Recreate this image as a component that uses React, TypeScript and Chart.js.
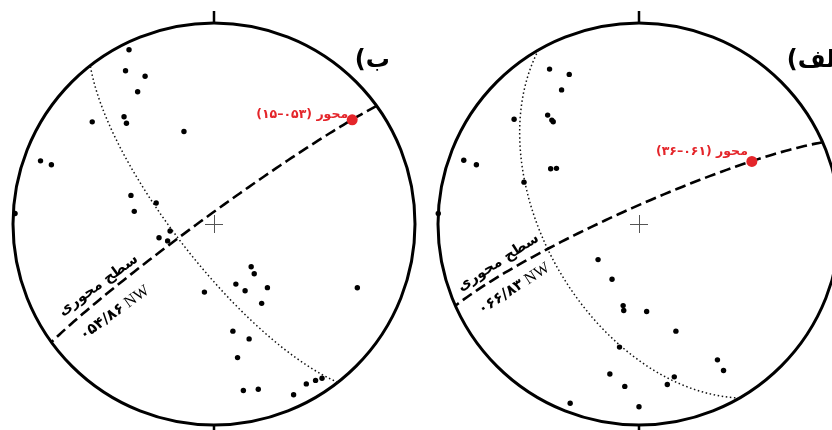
import { useEffect, useRef } from "react";
import { Chart, registerables } from "chart.js";

Chart.register(...registerables);

// Poles, lower hemisphere equal-area net, [trend, plunge] in degrees.
const polesB: [number, number][] = [
  [334, 4], [330, 13], [335, 20], [330, 25], [310, 22], [320, 31], [319, 34],
  [342, 50], [290, 9], [290, 15], [289, 54], [290, 65], [279, 57], [273, 1],
  [261, 72], [256, 67], [250, 70], [139, 67], [141, 64], [160, 64], [155, 60],
  [140, 56], [188, 62], [149, 52], [114, 23], [170, 45], [163, 40], [170, 33],
  [170, 17], [165, 16], [155, 7], [150, 9], [147, 8], [145, 7],
];

const polesAlef: [number, number][] = [
  [330, 12], [335, 19], [330, 24], [310, 20], [320, 30], [320, 33], [320, 34],
  [290, 8], [290, 15], [302, 47], [304, 49], [290, 39], [273, 0],
  [229, 68], [206, 65], [191, 56], [190, 54], [175, 54], [161, 43], [189, 38],
  [150, 23], [150, 17], [191, 25], [167, 23], [170, 20], [185, 20], [201, 5],
  [180, 10],
];

// Fold axes: trend, plunge
const axisB = { trend: 53, plunge: 15 };
const axisAlef = { trend: 61, plunge: 36 };

// Axial planes (dashed): strike / dip, dip quadrant
const axialPlaneB = { strike: 54, dip: 86, quadrant: "NW" };
const axialPlaneAlef = { strike: 66, dip: 83, quadrant: "NW" };

// Pole girdles (dotted)
const girdleB = { strike: 142, dip: 75, quadrant: "SW" };
const girdleAlef = { strike: 150, dip: 52, quadrant: "SW" };

const titleB = "ب)";
const titleAlef = "الف)";
const axisWord = "محور";
const axialPlaneWord = "سطح محوری";

// Canvas layout: net centre and radius in pixels
const W = 428;
const H = 430;
const CX = 214;
const CY = 224;
const R = 201;

const DEG = Math.PI / 180;
const FA_DIGITS = "۰۱۲۳۴۵۶۷۸۹";
const fa = (n: number, width: number) =>
  String(n).padStart(width, "0").replace(/\d/g, (d) => FA_DIGITS[+d]);

type Plane = { strike: number; dip: number; quadrant: string };

// Lambert equal-area (Schmidt) projection of a line
function project(trend: number, plunge: number) {
  const r = Math.SQRT2 * Math.sin(((90 - plunge) / 2) * DEG);
  return { x: r * Math.sin(trend * DEG), y: r * Math.cos(trend * DEG) };
}

const QUADRANT_AZ: Record<string, number> = { NE: 45, SE: 135, SW: 225, NW: 315 };

function dipDirection(p: Plane) {
  const a = (p.strike + 90) % 360;
  const b = (p.strike + 270) % 360;
  const q = QUADRANT_AZ[p.quadrant];
  const diff = (u: number) => Math.abs(((u - q + 540) % 360) - 180);
  return diff(a) < diff(b) ? a : b;
}

// Great circle of a plane: lines in the plane from one strike end to the other
function greatCircle(p: Plane) {
  const dd = dipDirection(p);
  const s = [Math.sin(p.strike * DEG), Math.cos(p.strike * DEG), 0];
  const d = [
    Math.sin(dd * DEG) * Math.cos(p.dip * DEG),
    Math.cos(dd * DEG) * Math.cos(p.dip * DEG),
    Math.sin(p.dip * DEG),
  ];
  const pts: { x: number; y: number }[] = [];
  for (let a = 0; a <= 180; a += 2) {
    const c = Math.cos(a * DEG);
    const sn = Math.sin(a * DEG);
    const v = [c * s[0] + sn * d[0], c * s[1] + sn * d[1], c * s[2] + sn * d[2]];
    const plunge = Math.asin(Math.max(0, Math.min(1, v[2]))) / DEG;
    const trend = Math.atan2(v[0], v[1]) / DEG;
    pts.push(project(trend, plunge));
  }
  return pts;
}

type Panel = {
  title: string;
  titleAt: [number, number];
  poles: [number, number][];
  axis: { trend: number; plunge: number };
  axisLabelRise: number;
  axialPlane: Plane;
  girdle: Plane;
  nameAt: [number, number];
  valueAt: [number, number];
  labelAngle: number;
};

const panelB: Panel = {
  title: titleB,
  titleAt: [0.70, 0.81],
  poles: polesB,
  axis: axisB,
  axisLabelRise: 5.5,
  axialPlane: axialPlaneB,
  girdle: girdleB,
  nameAt: [-0.575, -0.305],
  valueAt: [-0.495, -0.443],
  labelAngle: -36,
};

const panelAlef: Panel = {
  title: titleAlef,
  titleAt: [0.735, 0.81],
  poles: polesAlef,
  axis: axisAlef,
  axisLabelRise: 10,
  axialPlane: axialPlaneAlef,
  girdle: girdleAlef,
  nameAt: [-0.700, -0.192],
  valueAt: [-0.622, -0.323],
  labelAngle: -33,
};

const PERSIAN_FONT = '"DejaVu Sans", sans-serif';
const RED = "#e4252a";

function netDecor(panel: Panel) {
  return {
    id: "netDecor",
    beforeDatasetsDraw(chart: any) {
      const { ctx, scales } = chart;
      const cx = scales.x.getPixelForValue(0);
      const cy = scales.y.getPixelForValue(0);
      const r = scales.x.getPixelForValue(1) - cx;
      ctx.save();
      // primitive circle
      ctx.strokeStyle = "#000";
      ctx.lineWidth = 3;
      ctx.beginPath();
      ctx.arc(cx, cy, r, 0, Math.PI * 2);
      ctx.stroke();
      // north and south ticks
      ctx.lineWidth = 2.5;
      ctx.beginPath();
      ctx.moveTo(cx, cy - r);
      ctx.lineTo(cx, cy - r - 12);
      ctx.moveTo(cx, cy + r);
      ctx.lineTo(cx, cy + r + 12);
      ctx.stroke();
      // centre cross
      ctx.strokeStyle = "#555";
      ctx.lineWidth = 1;
      ctx.beginPath();
      ctx.moveTo(cx - 9, cy + 0.5);
      ctx.lineTo(cx + 9, cy + 0.5);
      ctx.moveTo(cx + 0.5, cy - 9);
      ctx.lineTo(cx + 0.5, cy + 9);
      ctx.stroke();
      ctx.restore();
    },
    afterDatasetsDraw(chart: any) {
      const { ctx, scales } = chart;
      const px = (v: number) => scales.x.getPixelForValue(v);
      const py = (v: number) => scales.y.getPixelForValue(v);
      ctx.save();

      // panel letter
      ctx.direction = "rtl";
      ctx.fillStyle = "#000";
      ctx.font = `bold 24px ${PERSIAN_FONT}`;
      ctx.textAlign = "left";
      ctx.textBaseline = "middle";
      ctx.fillText(panel.title, px(panel.titleAt[0]), py(panel.titleAt[1]));

      // fold axis label
      const a = project(panel.axis.trend, panel.axis.plunge);
      ctx.fillStyle = RED;
      ctx.font = `bold 12.5px ${PERSIAN_FONT}`;
      ctx.textAlign = "right";
      ctx.fillText(
        `${axisWord} (${fa(panel.axis.trend, 3)}–${fa(panel.axis.plunge, 2)})`,
        px(a.x) - 4,
        py(a.y) - panel.axisLabelRise
      );

      // axial plane labels along the dashed trace
      ctx.fillStyle = "#000";
      ctx.textAlign = "center";
      ctx.save();
      ctx.translate(px(panel.nameAt[0]), py(panel.nameAt[1]));
      ctx.rotate(panel.labelAngle * DEG);
      ctx.direction = "rtl";
      ctx.font = `bold 14.5px ${PERSIAN_FONT}`;
      ctx.fillText(axialPlaneWord, 0, 0);
      ctx.restore();

      ctx.save();
      ctx.translate(px(panel.valueAt[0]), py(panel.valueAt[1]));
      ctx.rotate(panel.labelAngle * DEG);
      ctx.direction = "ltr";
      const num = `${fa(panel.axialPlane.strike, 3)}/${fa(panel.axialPlane.dip, 2)}`;
      const q = ` ${panel.axialPlane.quadrant}`;
      ctx.font = `bold 15px ${PERSIAN_FONT}`;
      const wNum = ctx.measureText(num).width;
      ctx.font = `16px "Liberation Serif", serif`;
      const wQ = ctx.measureText(q).width;
      const x0 = -(wNum + wQ) / 2;
      ctx.textAlign = "left";
      ctx.font = `bold 15px ${PERSIAN_FONT}`;
      ctx.fillText(num, x0, 0);
      ctx.font = `16px "Liberation Serif", serif`;
      ctx.fillText(q, x0 + wNum, 0);
      ctx.restore();

      ctx.restore();
    },
  };
}

function Stereonet({ panel, left }: { panel: Panel; left: number }) {
  const ref = useRef<HTMLCanvasElement>(null);
  useEffect(() => {
    const axisPt = project(panel.axis.trend, panel.axis.plunge);
    const chart = new Chart(ref.current!, {
      type: "scatter",
      data: {
        datasets: [
          {
            label: "axis",
            data: [axisPt],
            pointRadius: 5.5,
            pointBorderWidth: 0,
            pointBackgroundColor: RED,
            backgroundColor: RED,
            order: 0,
          },
          {
            label: "poles",
            data: panel.poles.map(([t, p]) => project(t, p)),
            pointRadius: 2.7,
            pointBorderWidth: 0,
            pointBackgroundColor: "#000",
            backgroundColor: "#000",
            order: 1,
          },
          {
            label: "axial plane",
            data: greatCircle(panel.axialPlane),
            showLine: true,
            pointRadius: 0,
            borderColor: "#000",
            borderWidth: 2.6,
            borderDash: [11, 5],
            tension: 0,
            order: 2,
          },
          {
            label: "girdle",
            data: greatCircle(panel.girdle),
            showLine: true,
            pointRadius: 0,
            borderColor: "#111",
            borderWidth: 1.5,
            borderDash: [1.5, 2.6],
            tension: 0,
            order: 3,
          },
        ],
      },
      options: {
        responsive: false,
        animation: false,
        devicePixelRatio: 1,
        layout: { padding: 0, autoPadding: false },
        events: [],
        plugins: {
          legend: { display: false },
          tooltip: { enabled: false },
          title: { display: false },
        },
        scales: {
          x: { type: "linear", display: false, min: -CX / R, max: (W - CX) / R },
          y: { type: "linear", display: false, min: -(H - CY) / R, max: CY / R },
        },
      },
      plugins: [netDecor(panel)],
    } as any);
    return () => chart.destroy();
  }, [panel]);
  return (
    <canvas
      ref={ref}
      width={W}
      height={H}
      style={{ position: "absolute", left, top: 0, width: W, height: H }}
    />
  );
}

export default function App() {
  return (
    <div
      style={{
        position: "fixed",
        left: 0,
        top: 0,
        width: 832,
        height: 430,
        overflow: "hidden",
        background: "#fff",
      }}
    >
      <Stereonet panel={panelB} left={0} />
      <Stereonet panel={panelAlef} left={425} />
    </div>
  );
}
